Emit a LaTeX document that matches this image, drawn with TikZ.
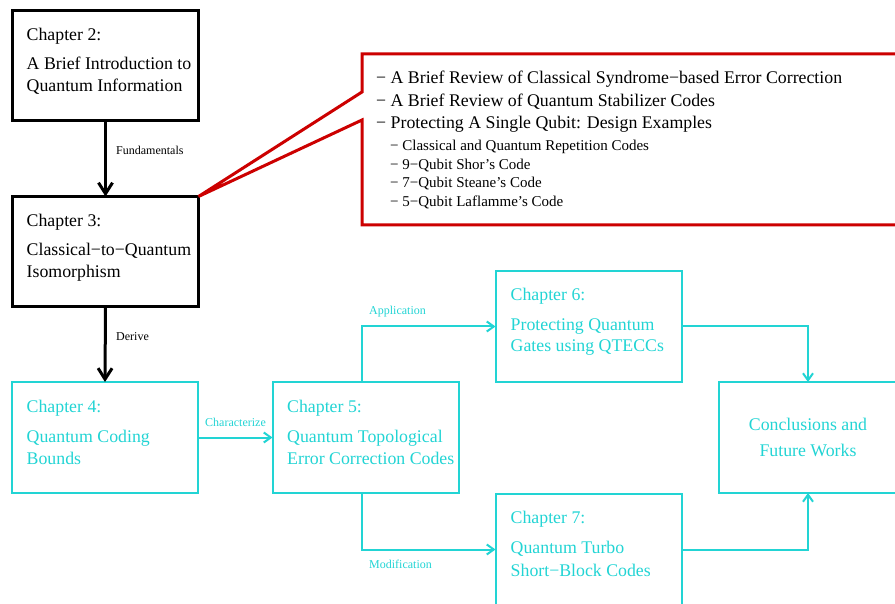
\documentclass[tikz,border=0pt]{standalone}
\usepackage{fontspec}
\setmainfont{Liberation Serif}
\usetikzlibrary{arrows.meta,calc}
\definecolor{chapcyan}{RGB}{34,212,212}
\definecolor{calloutred}{RGB}{204,0,0}
\begin{document}
\begin{tikzpicture}[x=1pt,y=-1pt,
  chapbox/.style={rectangle, inner sep=0pt, outer sep=0pt, anchor=north west,
    minimum width=186pt, minimum height=111pt},
  oldbox/.style={chapbox, draw=black, line width=3pt, minimum height=110pt},
  newbox/.style={chapbox, draw=chapcyan, line width=2pt},
  bodytext/.style={anchor=base west, inner sep=0pt, font=\fontsize{17.8}{20}\selectfont},
  centertext/.style={anchor=base, inner sep=0pt, font=\fontsize{17.8}{20}\selectfont, text=chapcyan},
  smalltext/.style={anchor=base west, inner sep=0pt, font=\fontsize{15}{17}\selectfont},
  edgetext/.style={anchor=base west, inner sep=0pt, font=\fontsize{12}{14}\selectfont},
  blackarrow/.style={draw=black, line width=3pt, -{Straight Barb[length=11pt,width=14pt]}},
  cyanarrow/.style={draw=chapcyan, line width=2pt, -{Straight Barb[length=7pt,width=10pt]}},
]
\clip (0,0) rectangle (895,604);

% chapter boxes
\node[oldbox] (c2) at (12.5,10.5) {};
\node[oldbox] (c3) at (12.5,196.5) {};
\node[newbox] (c4) at (12,382) {};
\node[newbox] (c5) at (272.5,382) {};
\node[newbox] (c6) at (495.5,271) {};
\node[newbox] (c7) at (495.5,494) {};
\node[newbox, minimum width=178pt] (cc) at (719,382) {};

% chapter titles
\node[bodytext] (t2a) at ($(c2.north west)+(14,30)$) {Chapter 2:};
\node[bodytext] (t2b) at ($(c2.north west)+(14,59)$) {A Brief Introduction to};
\node[bodytext] (t2c) at ($(c2.north west)+(14,81.5)$) {Quantum Information};

\node[bodytext] (t3a) at ($(c3.north west)+(14,30)$) {Chapter 3:};
\node[bodytext] (t3b) at ($(c3.north west)+(14,59)$) {Classical−to−Quantum};
\node[bodytext] (t3c) at ($(c3.north west)+(14,81.5)$) {Isomorphism};

\begin{scope}[every node/.append style={text=chapcyan}]
\node[bodytext] (t4a) at ($(c4.north west)+(14.5,30)$) {Chapter 4:};
\node[bodytext] (t4b) at ($(c4.north west)+(14.5,60.5)$) {Quantum Coding};
\node[bodytext] (t4c) at ($(c4.north west)+(14.5,82)$) {Bounds};

\node[bodytext] (t5a) at ($(c5.north west)+(14.5,30)$) {Chapter 5:};
\node[bodytext] (t5b) at ($(c5.north west)+(14.5,60.5)$) {Quantum Topological};
\node[bodytext] (t5c) at ($(c5.north west)+(14.5,82)$) {Error Correction Codes};

\node[bodytext] (t6a) at ($(c6.north west)+(15,29.5)$) {Chapter 6:};
\node[bodytext] (t6b) at ($(c6.north west)+(15,59.5)$) {Protecting Quantum};
\node[bodytext] (t6c) at ($(c6.north west)+(15,81)$) {Gates using QTECCs};

\node[bodytext] (t7a) at ($(c7.north west)+(15,29.5)$) {Chapter 7:};
\node[bodytext] (t7b) at ($(c7.north west)+(15,59.5)$) {Quantum Turbo};
\node[bodytext] (t7c) at ($(c7.north west)+(15,82)$) {Short−Block Codes};
\end{scope}

\node[centertext] (tca) at (808,430) {Conclusions and};
\node[centertext] (tcb) at (808,456) {Future Works};

% connectors
\draw[blackarrow] (c2.south) -- (c3.north);
\draw[blackarrow] (c3.south) -- (c4.north);
\draw[cyanarrow] (c4.east) -- (c5.west);
\draw[cyanarrow] ($(c5.north west)+(89.5,0)$) |- (c6.west);
\draw[cyanarrow] ($(c5.south west)+(89.5,0)$) |- (c7.west);
\draw[cyanarrow] (c6.east) -| (cc.north);
\draw[cyanarrow] (c7.east) -| (cc.south);

% connector labels
\node[edgetext] (l1) at (116,155) {Fundamentals};
\node[edgetext] (l2) at (116,341) {Derive};
\node[edgetext, text=chapcyan] (l3) at (205,426.5) {Characterize};
\node[edgetext, text=chapcyan] (l4) at (369,314.5) {Application};
\node[edgetext, text=chapcyan] (l5) at (369,568) {Modification};

% callout with the contents of chapter 3
\coordinate (ca) at (362,92);
\coordinate (cb) at (362,120);
\draw[calloutred, line width=3pt] (c3.north east) -- (cb) -- (362,225) -- (915,225)
  -- (915,54) -- (362,54) -- (ca) -- cycle;

\node[bodytext] (r1) at (376,84) {− A Brief Review of Classical Syndrome−based Error Correction};
\node[bodytext] (r2) at (376,106.5) {− A Brief Review of Quantum Stabilizer Codes};
\node[bodytext] (r3) at (376,129) {− Protecting A Single Qubit: Design Examples};
\node[smalltext] (r4) at (390,151) {− Classical and Quantum Repetition Codes};
\node[smalltext] (r5) at (390,169.5) {− 9−Qubit Shor’s Code};
\node[smalltext] (r6) at (390,188) {− 7−Qubit Steane’s Code};
\node[smalltext] (r7) at (390,206.5) {− 5−Qubit Laflamme’s Code};
\end{tikzpicture}
\end{document}
